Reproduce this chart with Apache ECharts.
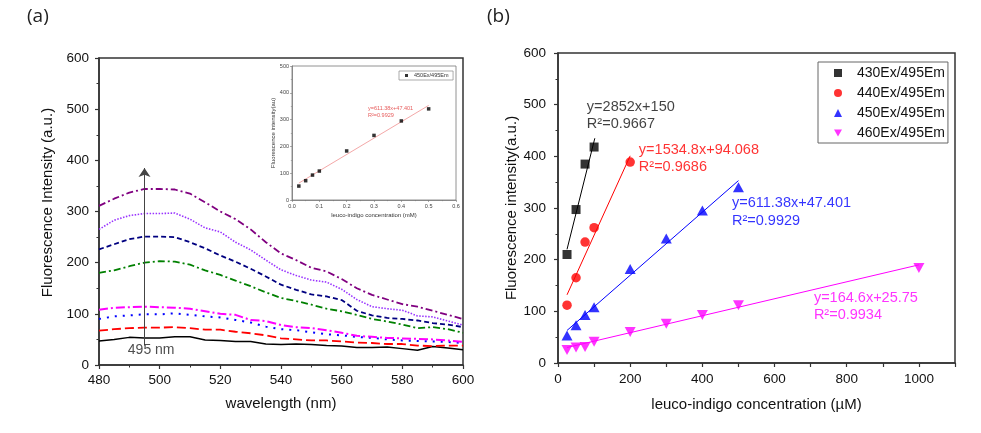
<!DOCTYPE html>
<html><head><meta charset="utf-8">
<script src="https://cdn.jsdelivr.net/npm/echarts@6/dist/echarts.min.js"></script>
<style>html,body{margin:0;padding:0;background:#fff}#c{width:981px;height:433px}</style>
</head><body><div id="c"></div>
<script>
// ---------- Panel (a): emission spectra ----------
const wavelengths = [480,485,490,495,500,505,510,515,520,525,530,535,540,545,550,555,560,565,570,575,580,585,590,595,600];
const specBlack   = [47,50,54,53,53,55,55,49,48,46,46,41,40,41,40,38,37,34,34,35,32,29,36,33,30];
const specRed     = [67,70,72,73,73,74,72,69,69,65,62,58,52,50,48,48,46,44,43,41,41,38,37,38,38];
const specBlue    = [90,95,97,99,99,101,98,95,93,88,83,75,70,68,64,60,58,55,53,50,48,47,46,45,43];
const specMagenta = [108,112,113,114,113,112,110,105,100,98,88,86,78,74,72,68,63,57,55,53,52,51,50,48,45];
const specGreen   = [180,185,193,200,203,202,196,185,176,165,154,142,131,125,118,110,105,98,90,85,79,72,74,70,63];
const specNavy    = [226,236,246,251,251,250,240,228,214,202,188,173,157,147,138,134,127,106,97,92,90,87,82,79,74];
const specViolet  = [265,283,292,296,296,297,285,268,260,240,225,205,186,175,166,162,148,128,114,110,107,96,94,86,78];
const specPurple  = [311,325,337,344,344,343,335,318,300,285,265,240,218,205,190,183,168,150,137,128,119,114,106,98,90];
const arrowFromTo = [[495,38],[495,385]];

// ---------- Inset ----------
const insetPoints = [[0.025,52],[0.05,72],[0.075,93],[0.1,108],[0.2,183],[0.3,241],[0.4,295],[0.5,340]];
const insetFit = [[0.025,63],[0.5,353]];

// ---------- Panel (b): calibration ----------
const s430 = [[25,210],[50,297],[75,385],[100,418]];
const s440 = [[25,112],[50,165],[75,234],[100,262],[200,389]];
const s450 = [[25,53],[50,73],[75,93],[100,108],[200,182],[300,241],[400,295],[500,340]];
const s460 = [[25,25],[50,30],[75,31],[100,41],[200,60],[300,76],[400,93],[500,112],[1000,184]];
const fit430 = [[25,220],[102,435]];
const fit440 = [[25,132],[200,401]];
const fit450 = [[25,63],[500,353]];
const fit460 = [[25,30],[1000,190]];
const legendNames = ['430Ex/495Em','440Ex/495Em','450Ex/495Em','460Ex/495Em'];

const FONT = '"Liberation Sans", Arial, sans-serif';
const axisLineStyle = {color:'#333', width:1.5};
const INV_TRI = 'path://M0,0 L10,0 L5,9 Z';

function valAxis(o){
  return Object.assign({
    type:'value',
    axisLine:{show:true, onZero:false, lineStyle:axisLineStyle},
    axisTick:{show:true, inside:false, length:4, lineStyle:{color:'#333', width:1.2}},
    minorTick:{show:true, splitNumber:2, length:2.5, lineStyle:{color:'#333', width:1}},
    splitLine:{show:false}, minorSplitLine:{show:false},
    axisLabel:{fontSize:13, color:'#111', fontFamily:FONT},
    nameLocation:'middle',
    nameTextStyle:{fontSize:15, color:'#111', fontFamily:FONT}
  }, o);
}

const chart = echarts.init(document.getElementById('c'), null, {renderer:'canvas'});

function spec(name, data, color, type, width){
  return {type:'line', name, xAxisIndex:0, yAxisIndex:0, showSymbol:false, symbol:'none',
    data: wavelengths.map((w,i)=>[w,data[i]]),
    lineStyle:{color, type, width}, silent:true, z:3};
}
function annot(xi, yi, items, fs){
  return {type:'scatter', xAxisIndex:xi, yAxisIndex:yi, symbolSize:0, silent:true, z:10,
    data: items.map(it=>({value:[it[0],it[1]], name:it[2],
      label:{show:true, position:'right', distance:0, formatter:it[2], color:it[3],
        fontSize:fs, fontFamily:FONT}}))};
}

const option = {
  animation:false,
  backgroundColor:'#fff',
  graphic:[
    {type:'text', left:27, top:7, style:{text:'(a)', fontSize:19, fontFamily:'"Open Sans", "Noto Sans", sans-serif', fill:'#222'}},
    {type:'text', left:487, top:7, style:{text:'(b)', fontSize:19, fontFamily:'"Open Sans", "Noto Sans", sans-serif', fill:'#222'}}
  ],
  grid:[
    {left:99, top:58, width:364, height:307, show:true, borderColor:'#333', borderWidth:1.5, outerBoundsMode:'none'},
    {left:292, top:66, width:164, height:134, show:true, borderColor:'#777', borderWidth:0.8, backgroundColor:'#fff', outerBoundsMode:'none', z:5},
    {left:558, top:53, width:397, height:310, show:true, borderColor:'#333', borderWidth:1.5, outerBoundsMode:'none'}
  ],
  xAxis:[
    valAxis({gridIndex:0, min:480, max:600, interval:20, name:'wavelength (nm)', nameGap:31,
      axisLabel:{fontSize:13.5, color:'#111', fontFamily:FONT, margin:8}}),
    valAxis({gridIndex:1, min:0, max:0.6, interval:0.1, name:'leuco-indigo concentration (mM)', nameGap:12,
      axisLine:{show:true, onZero:false, lineStyle:{color:'#777', width:0.8}},
      axisTick:{show:true, length:2, lineStyle:{color:'#777', width:0.6}},
      minorTick:{show:true, splitNumber:2, length:1.2, lineStyle:{color:'#777', width:0.5}},
      axisLabel:{fontSize:5.5, color:'#444', fontFamily:FONT, margin:3, formatter:v=>v.toFixed(1)},
      nameTextStyle:{fontSize:6, color:'#333', fontFamily:FONT}, z:6}),
    valAxis({gridIndex:2, min:0, max:1100, interval:100, name:'leuco-indigo concentration (\u00B5M)', nameGap:34,
      minorTick:{show:false},
      axisLabel:{fontSize:13.5, color:'#111', fontFamily:FONT, margin:9, formatter:v=>(v%200===0?String(v):'')}})
  ],
  yAxis:[
    valAxis({gridIndex:0, min:0, max:600, interval:100, name:'Fluorescence Intensity (a.u.)', nameGap:44,
      axisLabel:{fontSize:13.5, color:'#111', fontFamily:FONT, margin:10},
      nameTextStyle:{fontSize:15, color:'#111', fontFamily:FONT, padding:[0,0,0,18]}}),
    valAxis({gridIndex:1, min:0, max:500, interval:100, name:'Fluorescence intensity(au)', nameGap:14,
      axisLine:{show:true, onZero:false, lineStyle:{color:'#777', width:0.8}},
      axisTick:{show:true, length:2, lineStyle:{color:'#777', width:0.6}},
      minorTick:{show:true, splitNumber:2, length:1.2, lineStyle:{color:'#777', width:0.5}},
      axisLabel:{fontSize:5.5, color:'#444', fontFamily:FONT, margin:3},
      nameTextStyle:{fontSize:6, color:'#333', fontFamily:FONT}, z:6}),
    valAxis({gridIndex:2, min:0, max:600, interval:100, name:'Fluorescence intensity(a.u.)', nameGap:38,
      axisLabel:{fontSize:13.5, color:'#111', fontFamily:FONT, margin:12}})
  ],
  legend:[
    {data:[{name:'450Ex/495Em ', icon:'rect'}], left:399, top:71, orient:'vertical',
      padding:[1.5,3,1.5,6], itemWidth:3, itemHeight:3, borderColor:'#888', borderWidth:0.7,
      backgroundColor:'#fff', selectedMode:false, z:20,
      textStyle:{fontSize:5.5, color:'#333', fontFamily:FONT, padding:[0,0,0,1]}},
    {data:[
        {name:legendNames[0], icon:'rect'},
        {name:legendNames[1], icon:'circle'},
        {name:legendNames[2], icon:'triangle'},
        {name:legendNames[3], icon:INV_TRI}],
      left:818, top:62, orient:'vertical', padding:[4,3,3,16], itemGap:6,
      itemWidth:8, itemHeight:8, borderColor:'#666', borderWidth:1, selectedMode:false,
      textStyle:{fontSize:14, color:'#111', fontFamily:FONT, padding:[0,0,0,10]}}
  ],
  series:[
    Object.assign(spec('black', specBlack, '#000000', 'solid', 1.5), {
      markLine:{silent:true, symbol:['none','arrow'], symbolSize:9, animation:false,
        lineStyle:{color:'#444', width:1, type:'solid'}, label:{show:false}, emphasis:{disabled:true},
        data:[[{coord:arrowFromTo[0]},{coord:arrowFromTo[1]}]]}}),
    spec('red', specRed, '#ff0000', [9,4], 1.8),
    spec('blue', specBlue, '#0000ff', [2,6], 2),
    spec('magenta', specMagenta, '#ff00ff', [9,3,2,3], 2),
    spec('green', specGreen, '#008000', [7,3,2,3], 1.8),
    spec('navy', specNavy, '#000080', [5,3], 1.8),
    spec('violet', specViolet, '#9933ff', [1.5,1.5], 1.6),
    spec('purple', specPurple, '#800080', [7,3,2,3], 1.8),
    annot(0,0,[[489.5,29,'495 nm','#222']],14),

    // inset
    {type:'line', xAxisIndex:1, yAxisIndex:1, data:insetFit, showSymbol:false, symbol:'none',
      lineStyle:{color:'#f09090', width:0.8}, silent:true, z:6},
    {type:'scatter', name:'450Ex/495Em ', xAxisIndex:1, yAxisIndex:1, data:insetPoints,
      symbol:'rect', symbolSize:3.5, itemStyle:{color:'#000'}, silent:true, z:7},
    annot(1,1,[[0.278,343,'y=611.38x+47.401','#e03030'],[0.278,315,'R\u00B2=0.9929','#e03030']],5.5),

    // panel b fits
    {type:'line', xAxisIndex:2, yAxisIndex:2, data:fit430, showSymbol:false, symbol:'none', lineStyle:{color:'#000', width:1}, silent:true},
    {type:'line', xAxisIndex:2, yAxisIndex:2, data:fit440, showSymbol:false, symbol:'none', lineStyle:{color:'#ff0000', width:1}, silent:true},
    {type:'line', xAxisIndex:2, yAxisIndex:2, data:fit450, showSymbol:false, symbol:'none', lineStyle:{color:'#0000ff', width:1}, silent:true},
    {type:'line', xAxisIndex:2, yAxisIndex:2, data:fit460, showSymbol:false, symbol:'none', lineStyle:{color:'#ff00ff', width:1}, silent:true},
    {type:'scatter', name:legendNames[0], xAxisIndex:2, yAxisIndex:2, data:s430, symbol:'rect', symbolSize:9, itemStyle:{color:'#000'}, z:4},
    {type:'scatter', name:legendNames[1], xAxisIndex:2, yAxisIndex:2, data:s440, symbol:'circle', symbolSize:9.5, itemStyle:{color:'#ff0000'}, z:4},
    {type:'scatter', name:legendNames[2], xAxisIndex:2, yAxisIndex:2, data:s450, symbol:'triangle', symbolSize:[11,10], itemStyle:{color:'#0000ff'}, z:4},
    {type:'scatter', name:legendNames[3], xAxisIndex:2, yAxisIndex:2, data:s460, symbol:INV_TRI, symbolSize:[11,10], itemStyle:{color:'#ff00ff'}, z:4},
    annot(2,2,[
      [80,495,'y=2852x+150','#111'],[80,462,'R\u00B2=0.9667','#111'],
      [224,412,'y=1534.8x+94.068','#ff0000'],[224,379,'R\u00B2=0.9686','#ff0000'],
      [482,310,'y=611.38x+47.401','#0000ff'],[482,275,'R\u00B2=0.9929','#0000ff'],
      [709,126,'y=164.6x+25.75','#ff00ff'],[709,93,'R\u00B2=0.9934','#ff00ff']
    ],14.5)
  ]
};
chart.setOption(option);
</script>
</body></html>
